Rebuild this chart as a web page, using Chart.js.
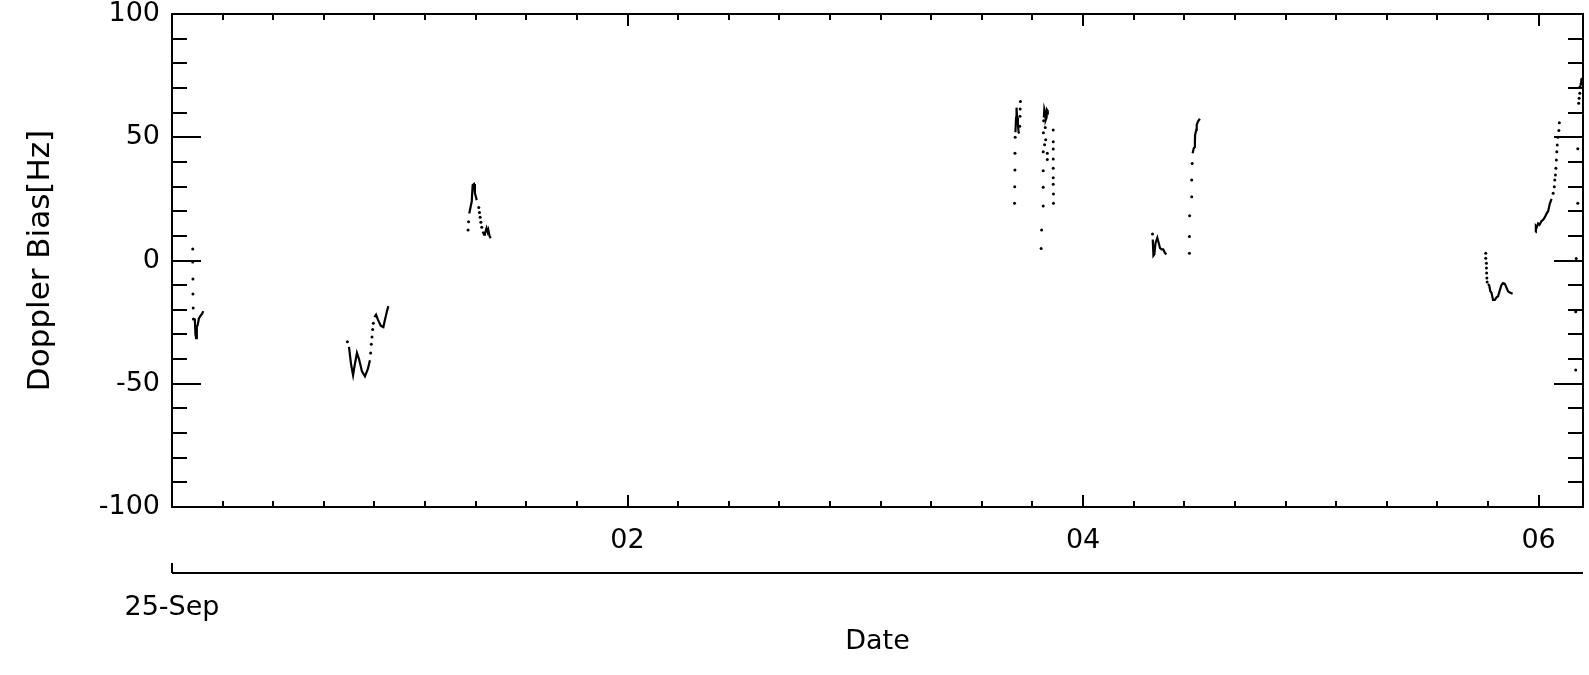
<!DOCTYPE html>
<html>
<head>
<meta charset="utf-8">
<title>Doppler Bias</title>
<script src="https://cdn.jsdelivr.net/npm/chart.js@4.4.1/dist/chart.umd.min.js"></script>
<style>
  html, body { margin: 0; padding: 0; background: #fff; }
  canvas { display: block; }
</style>
</head>
<body>
<canvas id="graficoDoppler" width="1589" height="675"></canvas>
<script>
// hours after 25-Sep 00:00, bias in Hz
// isolated samples (drawn as single dots)
const dotHours = [
  0.091, 0.091, 0.092, 0.092, 0.093, 0.094,
  0.770, 0.872, 0.875, 0.878, 0.881, 0.884,
  1.300, 1.302, 1.347, 1.350, 1.353, 1.356, 1.360,
  3.699, 3.700, 3.701, 3.701, 3.702, 3.722, 3.723, 3.724, 3.725,
  3.816, 3.818, 3.825, 3.825, 3.825, 3.825, 3.826, 3.827,
  3.834, 3.836, 3.831, 3.843, 3.843,
  3.869, 3.869, 3.869, 3.869, 3.869, 3.869, 3.869, 3.870, 3.870,
  4.305, 4.467, 4.467, 4.468, 4.477, 4.477, 4.479,
  5.768, 5.768, 5.771, 5.771, 5.772, 5.773, 5.774,
  6.064, 6.069, 6.071, 6.074, 6.076, 6.078, 6.080, 6.082, 6.085, 6.089, 6.091,
  6.163, 6.163, 6.165, 6.172, 6.172, 6.176, 6.178, 6.181, 6.182
];
const dotBias = [
  4.7, -0.6, -7.5, -13.6, -19.3, -23.7,
  -33, -37.5, -34, -31, -28, -25.5,
  12.4, 15.7, 21.5, 19.5, 17.5, 15.5, 13.5,
  23.2, 29.9, 36.7, 43.5, 50.0, 54.5, 58.5, 61.5, 64.5,
  4.9, 12.4, 22.1, 29.7, 36.4, 44.1, 51.8, 56.7,
  54, 49, 47, 43.5, 41,
  52.9, 48.2, 45.2, 41.2, 37.4, 33.6, 30.9, 27, 23.2,
  10.8, 2.9, 9.7, 18.2, 25.9, 32.7, 39.4,
  2.9, 0.9, -1.1, -3.0, -5.1, -7.1, -8.7,
  27.3, 29.9, 32.7, 34.7, 37.4, 40.8, 44.1, 46.9, 50.0, 52.7, 55.9,
  -44.4, -20.8, 0.8, 23.2, 45.3, 63.8, 65.8, 67.8, 70.5
];

// densely sampled stretches (null = break between passes)
const traceHours = [
  0.100, 0.103, 0.106, 0.109, 0.113, 0.118, 0.125, 0.133, 0.137, null,
  0.777, 0.786, 0.795, 0.803, 0.812, 0.821, 0.834, 0.847, 0.860, 0.869, null,
  0.889, 0.896, 0.904, 0.917, 0.928, 0.935, 0.944, 0.950, null,
  1.305, 1.316, 1.320, 1.326, 1.330, 1.338, null,
  1.364, 1.370, 1.374, 1.381, 1.386, 1.389, 1.394, 1.399, null,
  3.703, 3.706, 3.708, 3.710, 3.714, 3.717, 3.720, null,
  3.828, 3.830, 3.833, 3.836, 3.840, 3.842, 3.845, null,
  4.306, 4.309, 4.313, 4.318, 4.326, 4.331, 4.338, 4.345, 4.352, 4.360, 4.366, null,
  4.481, 4.486, 4.491, 4.491, 4.492, 4.497, 4.499, 4.505, 4.513, null,
  5.778, 5.783, 5.788, 5.793, 5.800, 5.808, 5.815, 5.822, 5.830, 5.837, 5.844, 5.852, 5.859, 5.866, 5.874, 5.886, null,
  5.987, 5.988, 5.992, 5.998, 6.004, 6.013, 6.020, 6.027, 6.035, 6.042, 6.049, 6.057, null,
  6.184, 6.186, 6.188, 6.191
];
const traceBias = [
  -23.5, -30, -31.5, -27, -26, -23.5, -22.5, -21.5, -20.5, null,
  -35, -42, -46.5, -42, -37.5, -40, -45, -47, -44, -40.5, null,
  -23, -22, -24, -26.5, -27, -24, -20.5, -18.5, null,
  19.1, 23.9, 30.6, 31, 27.3, 24.5, null,
  11.7, 10.5, 11.0, 13.1, 11.5, 12.4, 10, 9.0, null,
  52, 58, 62, 58, 55.5, 52, 51.5, null,
  58, 61.5, 60.5, 57, 58, 61, 60.5, null,
  8.5, 2, 2.5, 7, 9.2, 7.5, 5, 4.5, 4.5, 3, 2.5, null,
  43.5, 45.5, 46, 48.5, 51, 53, 55, 56.5, 57.5, null,
  -9.5, -10, -12.5, -13, -16, -16, -15, -14.5, -12, -10, -9.2, -9.5, -11, -12.5, -13, -13.5, null,
  11.5, 14, 13.5, 15, 14.5, 16, 16.5, 17.5, 19, 20, 23, 25, null,
  72, 71, 73.5, 74
];

// axis labels
const hourLabels = { 2: '02', 4: '04', 6: '06' };
const dayLabel = '25-Sep';
const yLabelValues = [-100, -50, 0, 50, 100];

const X_MAX = 6.195;
const X_STEP = 2 / 9;   // minor tick spacing of the time axis

const toPoints = (xs, ys) => xs.map((h, i) => ({ x: h === null ? NaN : h, y: ys[i] }));

// IDL style frame: ticks pointing inward on all four sides + second date axis
const ejesIDL = {
  id: 'ejesIDL',
  afterDraw(chart) {
    const { ctx, chartArea: a, scales: { x, y } } = chart;
    ctx.save();
    ctx.strokeStyle = '#000';
    ctx.lineWidth = 2;
    ctx.beginPath();
    ctx.rect(a.left, a.top, a.right - a.left, a.bottom - a.top);

    y.ticks.forEach(t => {
      const py = Math.round(y.getPixelForValue(t.value));
      const len = t.value % 50 === 0 ? 29 : 15;
      ctx.moveTo(a.left, py); ctx.lineTo(a.left + len, py);
      ctx.moveTo(a.right, py); ctx.lineTo(a.right - len, py);
    });
    x.ticks.forEach(t => {
      const k = Math.round(t.value / X_STEP);
      const px = Math.round(x.getPixelForValue(t.value));
      const len = k % 9 === 0 ? 12 : 6;
      ctx.moveTo(px, a.bottom); ctx.lineTo(px, a.bottom - len);
      ctx.moveTo(px, a.top); ctx.lineTo(px, a.top + len);
    });

    const sy = a.bottom + 66;
    ctx.moveTo(a.left, sy); ctx.lineTo(a.right, sy);
    ctx.moveTo(a.left, sy); ctx.lineTo(a.left, sy - 10);
    ctx.stroke();

    ctx.fillStyle = '#000';
    ctx.font = '27px "DejaVu Sans"';
    ctx.textAlign = 'center';
    ctx.textBaseline = 'middle';
    ctx.fillText(dayLabel, a.left, sy + 35);
    ctx.restore();
  }
};

new Chart(document.getElementById('graficoDoppler'), {
  type: 'scatter',
  data: {
    datasets: [
      {
        label: 'dots',
        data: toPoints(dotHours, dotBias),
        showLine: false,
        pointRadius: 1.5,
        pointBackgroundColor: '#000',
        pointBorderWidth: 0
      },
      {
        label: 'trace',
        data: toPoints(traceHours, traceBias),
        showLine: true,
        spanGaps: false,
        borderColor: '#000',
        borderWidth: 2.2,
        pointRadius: 0
      }
    ]
  },
  options: {
    responsive: false,
    animation: false,
    events: [],
    layout: { padding: { left: 0, top: 14, right: 6, bottom: 0 } },
    plugins: {
      legend: { display: false },
      tooltip: { enabled: false }
    },
    scales: {
      x: {
        type: 'linear',
        min: 0,
        max: X_MAX,
        grid: { display: false, drawTicks: false },
        border: { display: false },
        afterBuildTicks: scale => {
          const ticks = [];
          for (let k = 0; k * X_STEP <= X_MAX; k++) ticks.push({ value: k * X_STEP });
          scale.ticks = ticks;
        },
        afterFit: scale => {
          scale.height = 168;
          scale.paddingLeft = 0;
          scale.paddingRight = 0;
        },
        ticks: {
          autoSkip: false,
          maxRotation: 0,
          minRotation: 0,
          padding: 18,
          color: '#000',
          font: { family: '"DejaVu Sans"', size: 27 },
          callback: value => {
            const k = Math.round(value / X_STEP);
            return k % 9 === 0 ? (hourLabels[k / 4.5] || '') : '';
          }
        },
        title: {
          display: true,
          text: 'Date',
          color: '#000',
          font: { family: '"DejaVu Sans"', size: 27 },
          padding: { top: 0, bottom: 17 }
        }
      },
      y: {
        min: -100,
        max: 100,
        grid: { display: false, drawTicks: false },
        border: { display: false },
        afterFit: scale => {
          scale.width = 172;
          scale.paddingTop = 0;
          scale.paddingBottom = 0;
        },
        ticks: {
          stepSize: 10,
          autoSkip: false,
          padding: 12,
          color: '#000',
          font: { family: '"DejaVu Sans"', size: 27 },
          callback: value => yLabelValues.includes(value) ? String(value) : ''
        },
        title: {
          display: true,
          text: 'Doppler Bias[Hz]',
          color: '#000',
          font: { family: '"DejaVu Sans"', size: 31 },
          padding: { top: 22, bottom: 0 }
        }
      }
    }
  },
  plugins: [ejesIDL]
});
</script>
</body>
</html>
